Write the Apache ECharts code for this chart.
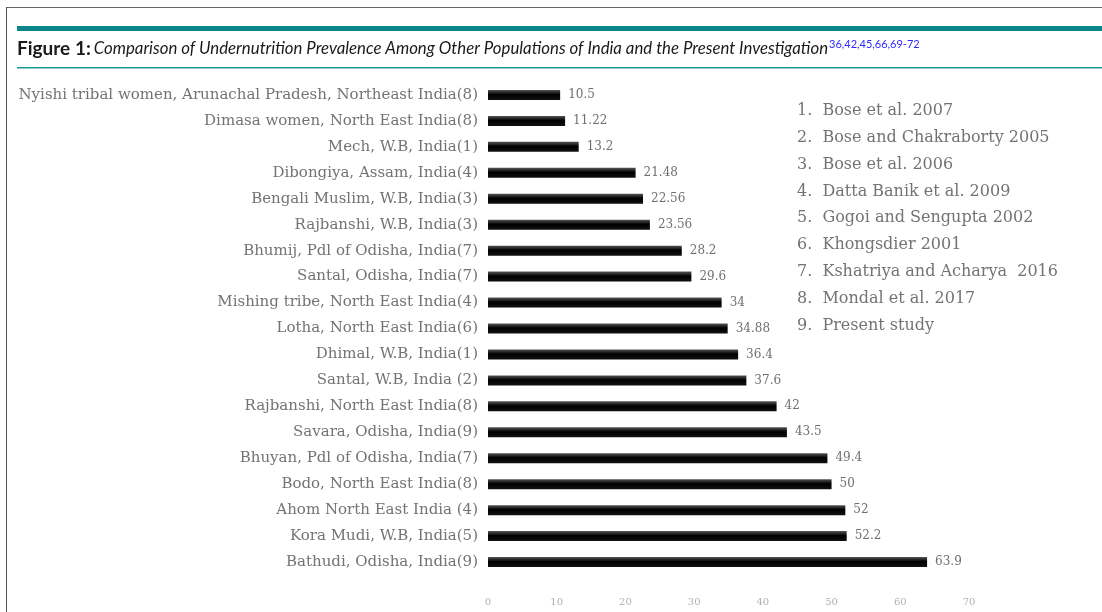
<!DOCTYPE html>
<html>
<head>
<meta charset="utf-8">
<script src="https://cdn.jsdelivr.net/npm/echarts@6/dist/echarts.min.js"></script>
<style>
  html, body { margin: 0; padding: 0; background: #fff; }
  #chart { width: 1102px; height: 612px; }
</style>
</head>
<body>
<div id="chart"></div>
<script>
// populations (top to bottom) with reference number
const populations = [
  'Nyishi tribal women, Arunachal Pradesh, Northeast India(8)',
  'Dimasa women, North East India(8)',
  'Mech, W.B, India(1)',
  'Dibongiya, Assam, India(4)',
  'Bengali Muslim, W.B, India(3)',
  'Rajbanshi, W.B, India(3)',
  'Bhumij, Pdl of Odisha, India(7)',
  'Santal, Odisha, India(7)',
  'Mishing tribe, North East India(4)',
  'Lotha, North East India(6)',
  'Dhimal, W.B, India(1)',
  'Santal, W.B, India (2)',
  'Rajbanshi, North East India(8)',
  'Savara, Odisha, India(9)',
  'Bhuyan, Pdl of Odisha, India(7)',
  'Bodo, North East India(8)',
  'Ahom North East India (4)',
  'Kora Mudi, W.B, India(5)',
  'Bathudi, Odisha, India(9)'
]
const prevalence = [10.5, 11.22, 13.2, 21.48, 22.56, 23.56, 28.2, 29.6, 34, 34.88,
  36.4, 37.6, 42, 43.5, 49.4, 50, 52, 52.2, 63.9]
const references = [
  '1.  Bose et al. 2007',
  '2.  Bose and Chakraborty 2005',
  '3.  Bose et al. 2006',
  '4.  Datta Banik et al. 2009',
  '5.  Gogoi and Sengupta 2002',
  '6.  Khongsdier 2001',
  '7.  Kshatriya and Acharya  2016',
  '8.  Mondal et al. 2017',
  '9.  Present study'
]
const xTicks = { min: 0, max: 70, interval: 10 }

const chart = echarts.init(document.getElementById('chart'))

const refText = references.map((r, i) => ({
  type: 'text',
  left: 797,
  top: 103 + i * 26.8,
  style: { text: r, font: '16px "DejaVu Serif"', fill: '#737373' }
}))

chart.setOption({
  animation: false,
  grid: { left: 488, right: 133, top: 82, bottom: 37, containLabel: false },
  xAxis: {
    type: 'value',
    min: xTicks.min,
    max: xTicks.max,
    interval: xTicks.interval,
    splitLine: { show: false },
    axisLine: { show: false },
    axisTick: { show: false },
    axisLabel: { margin: 22, color: '#b0b0b0', fontSize: 10, fontFamily: 'DejaVu Serif' }
  },
  yAxis: {
    type: 'category',
    inverse: true,
    data: populations,
    axisLine: { show: false },
    axisTick: { show: false },
    axisLabel: { margin: 10, color: '#737373', fontSize: 15, fontFamily: 'DejaVu Serif' }
  },
  series: [{
    type: 'bar',
    data: prevalence,
    barWidth: 10,
    itemStyle: {
      color: {
        type: 'linear', x: 0, y: 0, x2: 0, y2: 1,
        colorStops: [
          { offset: 0, color: '#555' },
          { offset: 0.45, color: '#000' },
          { offset: 1, color: '#111' }
        ]
      }
    },
    label: {
      show: true,
      position: 'right',
      distance: 8,
      color: '#707070',
      fontSize: 12,
      fontFamily: 'DejaVu Serif'
    }
  }],
  graphic: [
    // frame lines
    { type: 'rect', shape: { x: 6, y: 7, width: 1096, height: 1 }, style: { fill: '#666' } },
    { type: 'rect', shape: { x: 6, y: 7, width: 1, height: 605 }, style: { fill: '#555' } },
    // teal bands
    { type: 'rect', shape: { x: 17, y: 26, width: 1085, height: 5 }, style: { fill: '#0b868a' } },
    { type: 'rect', shape: { x: 17, y: 67, width: 1085, height: 1.5 }, style: { fill: '#1a9a9c' } },
    {
      type: 'text',
      left: 17,
      top: 39,
      style: {
        text: '{b|Figure 1:}{i|Comparison of Undernutrition Prevalence Among Other Populations of India and the Present Investigation}{s|36,42,45,66,69-72}',
        rich: {
          b: { font: 'bold 19px Lato', fill: '#1a1a1a', lineHeight: 20, padding: [0, 3, 0, 0] },
          i: { font: 'italic 16.8px Lato', fill: '#1a1a1a', lineHeight: 20 },
          s: { font: '11px Lato', fill: '#2b2bff', verticalAlign: 'top', lineHeight: 20, padding: [0, 0, 8, 1] }
        }
      }
    },
    ...refText
  ]
})
</script>
</body>
</html>
